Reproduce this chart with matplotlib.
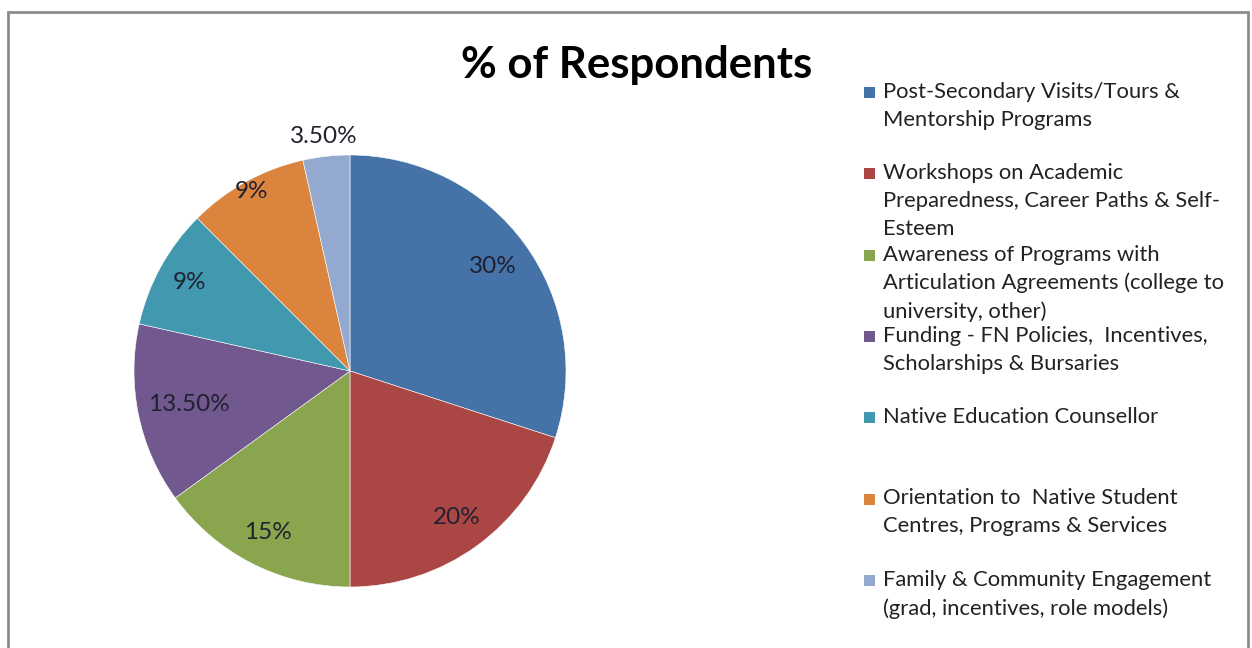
import numpy as np
import matplotlib.pyplot as plt
from matplotlib.patches import Rectangle

plt.rcParams['font.family'] = ['Lato', 'DejaVu Sans']

# parts du camembert, dans l'ordre des aiguilles d'une montre depuis midi
categories = [
    "Post-Secondary Visits/Tours &\nMentorship Programs",
    "Workshops on Academic\nPreparedness, Career Paths & Self-\nEsteem",
    "Awareness of Programs with\nArticulation Agreements (college to\nuniversity, other)",
    "Funding - FN Policies,  Incentives,\nScholarships & Bursaries",
    "Native Education Counsellor",
    "Orientation to  Native Student\nCentres, Programs & Services",
    "Family & Community Engagement\n(grad, incentives, role models)",
]
valeurs = [30, 20, 15, 13.5, 9, 9, 3.5]
etiquettes = ["30%", "20%", "15%", "13.50%", "9%", "9%", "3.50%"]
couleurs = ["#4572A7", "#AA4643", "#89A54E", "#71588F", "#4198AF", "#DB843D", "#93A9CF"]
# distance des etiquettes au centre (en rayons)
dist_etiq = [0.82, 0.84, 0.84, 0.76, 0.85, 0.95, 1.09]

fig = plt.figure(figsize=(12.52, 6.48), dpi=100)
fig.patch.set_facecolor("white")

# cadre gris autour du graphique
fig.patches.append(Rectangle((8 / 1252, -0.05), 1240 / 1252, 1.05 - 12 / 648,
                             transform=fig.transFigure, fill=False,
                             edgecolor="#8c8c8c", linewidth=2))

ax = fig.add_axes([134 / 1252, 61 / 648, 432 / 1252, 432 / 648])
wedges, _ = ax.pie(valeurs, colors=couleurs, startangle=90, counterclock=False,
                   radius=1, wedgeprops=dict(edgecolor="white", linewidth=0.4))
ax.set_xlim(-1, 1)
ax.set_ylim(-1, 1)
ax.set_aspect("equal")
ax.axis("off")

for w, txt, d in zip(wedges, etiquettes, dist_etiq):
    ang = np.deg2rad((w.theta1 + w.theta2) / 2)
    ax.text(d * np.cos(ang), d * np.sin(ang), txt, ha="center", va="center",
            fontsize=17.5, color="#202030", clip_on=False)

fig.text(637 / 1252, 1 - 65 / 648, "% of Respondents", ha="center", va="center",
         fontsize=31.5, fontweight="bold", color="black")

# legende faite a la main : une entree tous les 81 px
y0 = 92
for i, (lab, c) in enumerate(zip(categories, couleurs)):
    y = y0 + i * 81.3
    fig.patches.append(Rectangle((864 / 1252, 1 - (y + 6) / 648), 11 / 1252, 11 / 648,
                                 transform=fig.transFigure, facecolor=c, edgecolor="none"))
    fig.text(883 / 1252, 1 - (y - 10) / 648, lab, ha="left", va="top",
             fontsize=15.8, color="#222222", linespacing=1.5)

fig.savefig("out.png", dpi=100, facecolor="white")
